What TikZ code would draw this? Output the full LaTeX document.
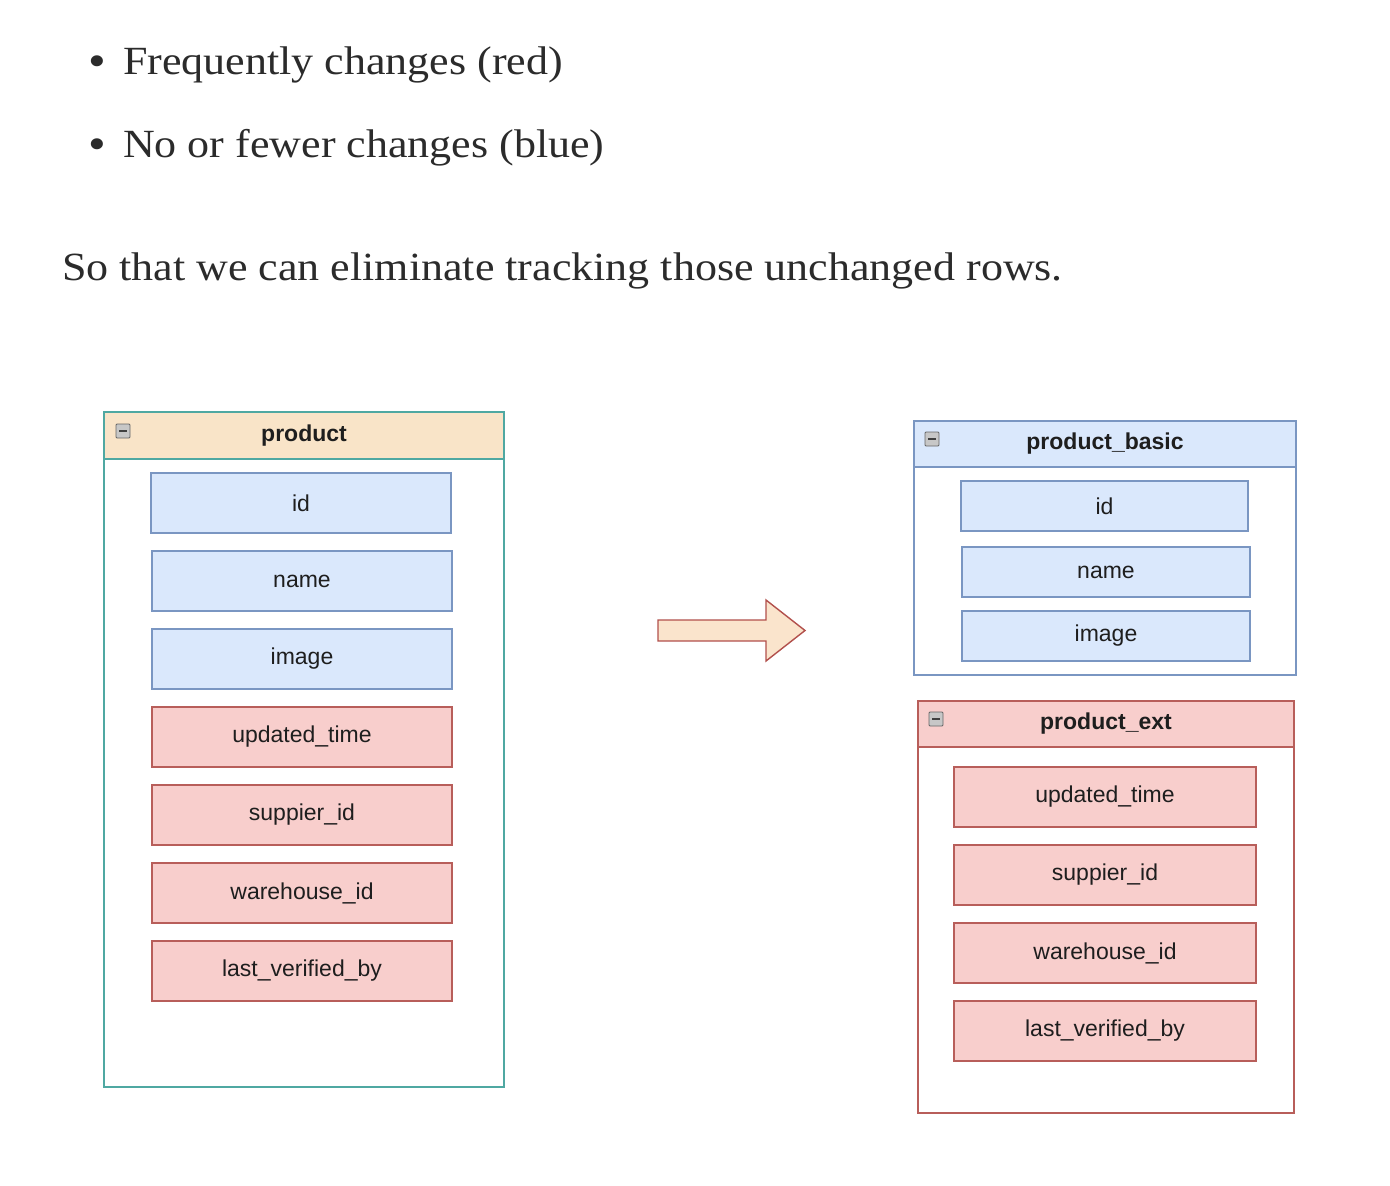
\documentclass[tikz,border=0pt]{standalone}
\usepackage{fontspec}
\setmainfont{Liberation Serif}[FakeStretch=1.10]
\setsansfont{Liberation Sans}
\definecolor{blueF}{HTML}{DAE8FC}
\definecolor{blueB}{HTML}{7A96C2}
\definecolor{redF}{HTML}{F8CECC}
\definecolor{redB}{HTML}{B85E5A}
\definecolor{tanF}{HTML}{F9E4C8}
\definecolor{tealB}{HTML}{4FA8A2}
\definecolor{arrF}{HTML}{FAE4CC}
\definecolor{arrB}{HTML}{B2504C}
\definecolor{txt}{HTML}{1E1E1E}
\definecolor{body}{HTML}{2B2B2B}
\tikzset{
  fld/.style={line width=1.4pt, inner sep=0pt, text=txt,
    font=\sffamily\fontsize{23}{27}\selectfont},
  fblue/.style={fld, draw=blueB, fill=blueF},
  fred/.style={fld, draw=redB, fill=redF},
  hdr/.style={line width=1.4pt, inner sep=0pt, text=txt,
    font=\sffamily\bfseries\fontsize{23}{27}\selectfont},
  cont/.style={line width=1.4pt, inner sep=0pt, fill=white},
  bodytxt/.style={inner sep=0pt, text=body, anchor=base west,
    font=\rmfamily\fontsize{40}{48}\selectfont},
  minusicon/.style={draw=black!60, fill=black!22, line width=0.8pt,
    minimum size=14pt, inner sep=0pt, rounded corners=1pt}
}
\begin{document}
\begin{tikzpicture}[x=1pt,y=-1pt]
\useasboundingbox[fill=white] (0,0) rectangle (1390,1186);

% text
\node[bodytxt, font=\rmfamily\fontsize{46}{48}\selectfont] (b1) at (88,76) {•};
\node[bodytxt] (t1) at (123,74) {Frequently changes (red)};
\node[bodytxt, font=\rmfamily\fontsize{46}{48}\selectfont] (b2) at (88,159) {•};
\node[bodytxt] (t2) at (123,157) {No or fewer changes (blue)};
\node[bodytxt] (t3) at (62,280) {So that we can eliminate tracking those unchanged rows.};

% left table
\node[cont, draw=tealB, minimum width=400pt, minimum height=675pt] (prod) at (304,749.5) {};
\node[hdr, draw=tealB, fill=tanF, minimum width=400pt, minimum height=47pt] (prodh) at (304,435.5) {\raisebox{-2pt}{product}};
\node[minusicon] (m1) at (123,431) {};
\draw[line width=1.4pt, black!75] ([xshift=-4pt]m1.center) -- ([xshift=4pt]m1.center);
\node[fblue, minimum width=300pt, minimum height=60pt] (l1) at (301,503) {id};
\node[fblue, minimum width=300pt, minimum height=60pt] (l2) at (302,581) {name};
\node[fblue, minimum width=300pt, minimum height=60pt] (l3) at (302,659) {image};
\node[fred, minimum width=300pt, minimum height=60pt] (l4) at (302,737) {updated\_time};
\node[fred, minimum width=300pt, minimum height=60pt] (l5) at (302,815) {suppier\_id};
\node[fred, minimum width=300pt, minimum height=60pt] (l6) at (302,893) {warehouse\_id};
\node[fred, minimum width=300pt, minimum height=60pt] (l7) at (302,971) {last\_verified\_by};

% arrow
\draw[fill=arrF, draw=arrB, line width=1.4pt, line join=miter]
  (658,620) -- (766,620) -- (766,600) -- (805,630.5) -- (766,661) -- (766,641) -- (658,641) -- cycle;

% right table basic
\node[cont, draw=blueB, minimum width=382pt, minimum height=254pt] (pb) at (1105,548) {};
\node[hdr, draw=blueB, fill=blueF, minimum width=382pt, minimum height=46pt] (pbh) at (1105,444) {\raisebox{-2pt}{product\_basic}};
\node[minusicon] (m2) at (932,439) {};
\draw[line width=1.4pt, black!75] ([xshift=-4pt]m2.center) -- ([xshift=4pt]m2.center);
\node[fblue, minimum width=287pt, minimum height=50pt] (r1) at (1104.5,506) {id};
\node[fblue, minimum width=288pt, minimum height=50pt] (r2) at (1106,572) {name};
\node[fblue, minimum width=288pt, minimum height=50pt] (r3) at (1106,636) {image};

% right table ext
\node[cont, draw=redB, minimum width=376pt, minimum height=412pt] (pe) at (1106,907) {};
\node[hdr, draw=redB, fill=redF, minimum width=376pt, minimum height=46pt] (peh) at (1106,724) {\raisebox{-2pt}{product\_ext}};
\node[minusicon] (m3) at (936,719) {};
\draw[line width=1.4pt, black!75] ([xshift=-4pt]m3.center) -- ([xshift=4pt]m3.center);
\node[fred, minimum width=302pt, minimum height=60pt] (e1) at (1105,797) {updated\_time};
\node[fred, minimum width=302pt, minimum height=60pt] (e2) at (1105,875) {suppier\_id};
\node[fred, minimum width=302pt, minimum height=60pt] (e3) at (1105,953) {warehouse\_id};
\node[fred, minimum width=302pt, minimum height=60pt] (e4) at (1105,1031) {last\_verified\_by};
\end{tikzpicture}
\end{document}
